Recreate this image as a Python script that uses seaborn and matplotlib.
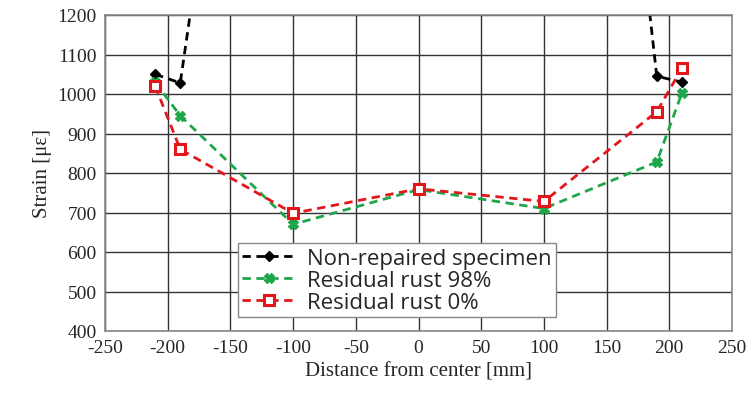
import pandas as pd
import matplotlib
matplotlib.use("Agg")
import matplotlib.pyplot as plt
import seaborn as sns

# Distance from center [mm]
distance = [-210, -190, -100, 0, 100, 190, 210]
# strain values (non-repaired goes far above the plot at the middle)
non_repaired = [1050, 1028, 3000, 3400, 3600, 1045, 1030]
rust_98 = [1030, 945, 670, 758, 710, 828, 1002]
rust_0 = [1020, 860, 698, 760, 728, 955, 1065]

labels = ["Non-repaired specimen", "Residual rust 98%", "Residual rust 0%"]

sns.set_style("white")
plt.rcParams["axes.unicode_minus"] = False

fig = plt.figure(figsize=(7.51, 4.02), dpi=100)
ax = fig.add_axes([105 / 751, 70 / 402, 627 / 751, 316 / 402])

series = [
    (non_repaired, "black", "D", 5.5, "black", 1),
    (rust_98, "#1fa64a", "X", 6.5, "#1fa64a", 1),
    (rust_0, "#e3161b", "s", 6.5, "white", 2.2),
]
for (vals, col, mk, ms, face, mew), lab in zip(series, labels):
    sns.lineplot(x=distance, y=vals, ax=ax, color=col, marker=mk, markersize=ms,
                 markerfacecolor=face, markeredgecolor=col, markeredgewidth=mew,
                 linestyle=(0, (3, 2)), linewidth=2, label=lab)

ax.set_xlim(-250, 250)
ax.set_ylim(400, 1200)
ax.set_xticks(range(-250, 251, 50))
ax.set_yticks(range(400, 1201, 100))
ax.grid(True, color="#333333", linewidth=1)
for s in ax.spines.values():
    s.set_color("#888888")
    s.set_linewidth(1.2)
ax.tick_params(length=0, labelsize=14, pad=6)
for t in ax.get_xticklabels() + ax.get_yticklabels():
    t.set_fontfamily("Liberation Serif")

ax.set_xlabel("Distance from center [mm]", fontsize=15, fontfamily="Liberation Serif")
ax.set_ylabel("Strain [με]", fontsize=15, fontfamily="Liberation Serif")

leg = ax.legend(loc="upper left", bbox_to_anchor=(133 / 627, 0.278), frameon=True,
                fancybox=False, edgecolor="#888888", framealpha=1,
                prop={"family": "Open Sans", "size": 16},
                handlelength=2.4, handletextpad=0.5, labelspacing=0.05,
                borderpad=0.2, borderaxespad=0)
leg.get_frame().set_linewidth(1)

fig.savefig("out.png", dpi=100)
